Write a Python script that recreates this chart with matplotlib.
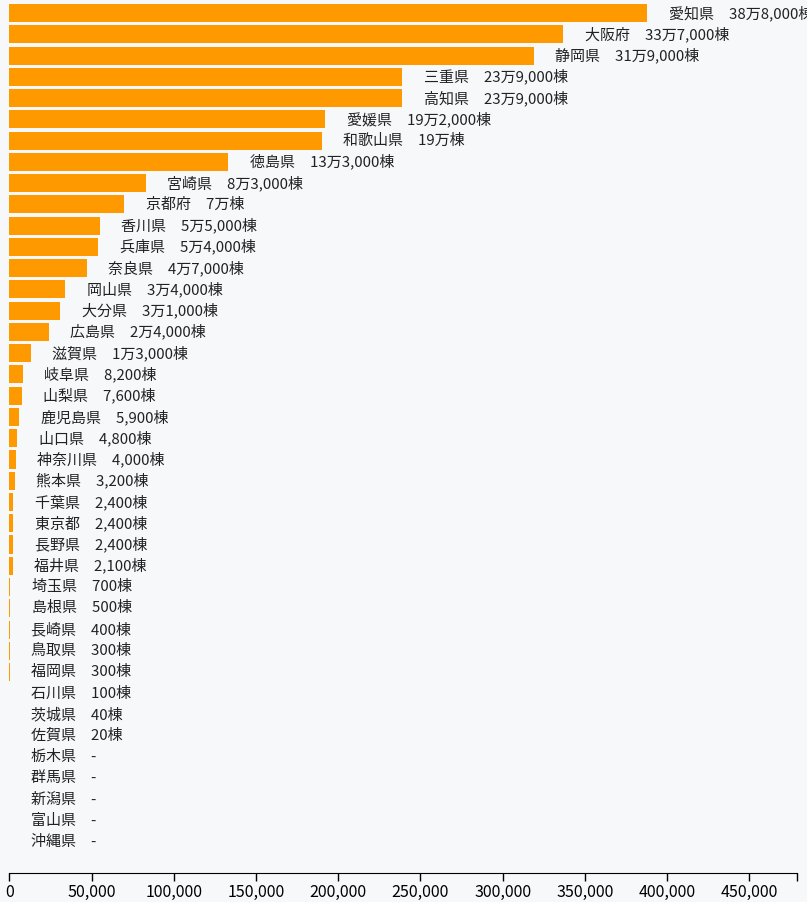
import matplotlib
matplotlib.use("Agg")
import matplotlib.pyplot as plt
from matplotlib.ticker import FuncFormatter

plt.rcParams['font.family'] = ['Noto Sans CJK JP', 'DejaVu Sans']

# 都道府県と棟数（None はデータなし "-"）
prefs = ['愛知県', '大阪府', '静岡県', '三重県', '高知県', '愛媛県', '和歌山県', '徳島県',
         '宮崎県', '京都府', '香川県', '兵庫県', '奈良県', '岡山県', '大分県', '広島県',
         '滋賀県', '岐阜県', '山梨県', '鹿児島県', '山口県', '神奈川県', '熊本県', '千葉県',
         '東京都', '長野県', '福井県', '埼玉県', '島根県', '長崎県', '鳥取県', '福岡県',
         '石川県', '茨城県', '佐賀県', '栃木県', '群馬県', '新潟県', '富山県', '沖縄県']
values = [388000, 337000, 319000, 239000, 239000, 192000, 190000, 133000,
          83000, 70000, 55000, 54000, 47000, 34000, 31000, 24000,
          13000, 8200, 7600, 5900, 4800, 4000, 3200, 2400,
          2400, 2400, 2100, 700, 500, 400, 300, 300,
          100, 40, 20, None, None, None, None, None]
x_ticks = [0, 50000, 100000, 150000, 200000, 250000, 300000, 350000, 400000, 450000]
x_max = 479000


def fmt_label(v):
    if v is None:
        return '-'
    if v >= 10000:
        man, rest = divmod(v, 10000)
        s = f'{man}万'
        if rest:
            s += f'{rest:,}'
        return s + '棟'
    return f'{v:,}棟'


bg = '#F6F8FA'
fig = plt.figure(figsize=(8.07, 9.02), dpi=100, facecolor=bg)
ax = fig.add_axes([9.3 / 807, 1 - 873 / 902, (797 - 9.3) / 807, (873 - 2.4) / 902])
ax.set_facecolor(bg)

ypos = list(range(len(prefs)))
widths = [v if v is not None else 0 for v in values]
ax.barh(ypos, widths, height=0.85, color='#FF9900', linewidth=0)

for y, v, p in zip(ypos, widths, values):
    ax.annotate(f'{prefs[y]}　{fmt_label(p)}', (v, y), xytext=(15.5, 0),
                textcoords='offset points', va='center', ha='left',
                fontsize=10.8, color='#222222', annotation_clip=False)

ax.set_xlim(0, x_max)
ax.set_ylim(40.45, -0.5)
ax.set_yticks([])
ax.set_xticks(x_ticks)
ax.set_xticks([x_max], minor=True)
ax.xaxis.set_major_formatter(FuncFormatter(lambda x, p: f'{int(x):,}'))
ax.tick_params(axis='x', which='both', length=6, width=1, labelsize=11.5, pad=2, colors='black')
for s in ['top', 'right', 'left']:
    ax.spines[s].set_visible(False)
ax.spines['bottom'].set_color('black')

fig.savefig('out.png', dpi=100, facecolor=bg)
